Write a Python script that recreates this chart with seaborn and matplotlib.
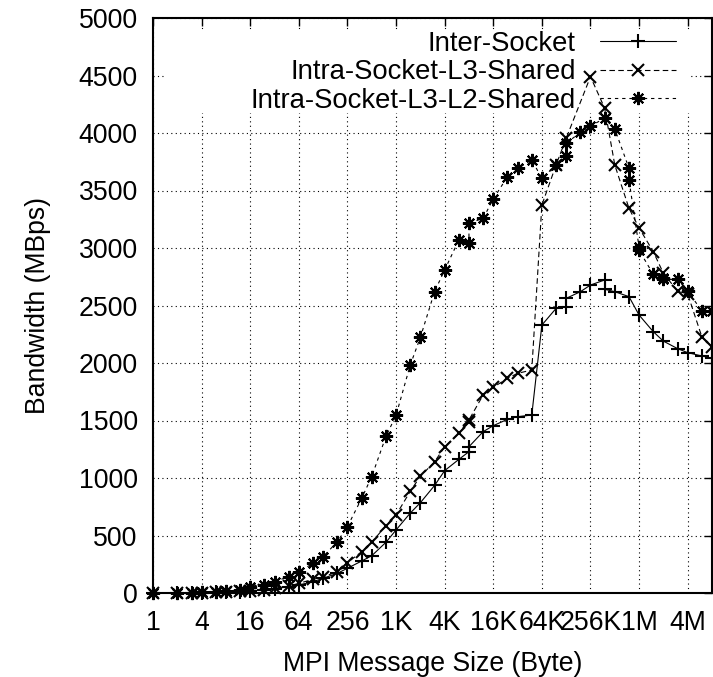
import matplotlib
matplotlib.use("Agg")
import matplotlib.pyplot as plt
from matplotlib.patches import Rectangle
import pandas as pd
import seaborn as sns

K = 1024
M = 1024 * 1024

# ---- data (message size in bytes, bandwidth in MBps) ----
inter_x = [1, 2, 3, 4, 6, 8, 12, 16, 24, 32, 48, 64, 96, 128, 192, 256, 384, 512, 768,
           1 * K, 1.5 * K, 2 * K, 3 * K, 4 * K, 6 * K, 8 * K, 8 * K, 12 * K, 16 * K, 24 * K, 32 * K, 48 * K,
           64 * K, 96 * K, 128 * K, 128 * K, 192 * K, 256 * K, 384 * K, 384 * K, 512 * K, 768 * K,
           1 * M, 1.5 * M, 2 * M, 3 * M, 4 * M, 6 * M, 8 * M]
inter_y = [1, 2, 3, 4, 6, 9, 13, 18, 27, 38, 54, 70, 98, 128, 171, 215, 278, 324, 441,
           548, 695, 785, 935, 1064, 1162, 1229, 1272, 1403, 1455, 1510, 1533, 1548,
           2330, 2475, 2490, 2562, 2620, 2678, 2722, 2641, 2620, 2577,
           2417, 2272, 2190, 2125, 2090, 2061, 2041]

l3_x = [1, 2, 3, 4, 6, 8, 12, 16, 24, 32, 48, 64, 96, 128, 192, 256, 384, 512, 768,
        1 * K, 1.5 * K, 2 * K, 3 * K, 4 * K, 6 * K, 8 * K, 8 * K, 12 * K, 16 * K, 24 * K, 32 * K, 48 * K,
        64 * K, 96 * K, 128 * K, 256 * K, 384 * K, 512 * K, 768 * K,
        1 * M, 1.5 * M, 2 * M, 3 * M, 4 * M, 6 * M, 8 * M]
l3_y = [1, 2, 3, 4, 7, 9, 14, 20, 30, 42, 60, 84, 119, 140, 185, 264, 359, 441, 586,
        678, 884, 1015, 1140, 1272, 1388, 1490, 1505, 1722, 1788, 1867, 1910, 1939,
        3374, 3722, 3954, 4490, 4215, 3722, 3345,
        3174, 2968, 2780, 2625, 2600, 2226, 2142]

l3l2_x = [1, 2, 3, 4, 6, 8, 12, 16, 24, 32, 48, 64, 96, 128, 192, 256, 384, 512, 768,
          1 * K, 1.5 * K, 2 * K, 3 * K, 4 * K, 6 * K, 8 * K, 8 * K, 12 * K, 16 * K, 24 * K, 32 * K, 48 * K,
          64 * K, 96 * K, 128 * K, 128 * K, 192 * K, 256 * K, 384 * K, 512 * K, 768 * K, 768 * K,
          1 * M, 1 * M, 1.5 * M, 2 * M, 2 * M, 3 * M, 4 * M, 6 * M, 8 * M]
l3l2_y = [2, 3, 4, 6, 10, 14, 30, 50, 70, 98, 142, 185, 258, 316, 446, 577, 823, 1012, 1362,
          1545, 1983, 2222, 2620, 2809, 3070, 3041, 3215, 3258, 3426, 3620, 3693, 3765,
          3606, 3722, 3800, 3910, 4006, 4061, 4128, 4035, 3693, 3591,
          3006, 2980, 2771, 2742, 2727, 2727, 2626, 2452, 2452]

series_names = ["Inter-Socket", "Intra-Socket-L3-Shared", "Intra-Socket-L3-L2-Shared"]

xtick_vals = [1, 4, 16, 64, 256, 1 * K, 4 * K, 16 * K, 64 * K, 256 * K, 1 * M, 4 * M]
xtick_labels = ["1", "4", "16", "64", "256", "1K", "4K", "16K", "64K", "256K", "1M", "4M"]
ytick_vals = list(range(0, 5001, 500))

# ---- style ----
sns.set_theme(style="white")
plt.rcParams["font.family"] = ["Liberation Sans", "DejaVu Sans"]
FS = 19.2
LFS = 19.8

fig = plt.figure(figsize=(7.13, 6.77), dpi=100)
ax = fig.add_axes([153 / 713, 84 / 677, 559 / 713, 575 / 677])
ax.set_xscale("log", base=2)

styles = [
    dict(marker="+", linestyle="-", markersize=9.5),
    dict(marker="x", linestyle=(0, (5, 3)), markersize=8.5),
    dict(marker=(8, 2, 0), linestyle=(0, (3, 3.5)), markersize=9.5),
]
data = [(inter_x, inter_y), (l3_x, l3_y), (l3l2_x, l3l2_y)]

for (xs, ys), name, st in zip(data, series_names, styles):
    df = pd.DataFrame({"size": xs, "bw": ys})
    sns.lineplot(data=df, x="size", y="bw", ax=ax, sort=False, estimator=None,
                 color="black", linewidth=0.8, markeredgewidth=1.5,
                 markeredgecolor="black", label=name, clip_on=False, zorder=3, **st)

ax.set_xlim(1, 8 * M)
ax.set_ylim(0, 5000)
ax.set_xticks(xtick_vals)
ax.set_xticklabels(xtick_labels)
ax.set_yticks(ytick_vals)
ax.set_yticklabels([str(v) for v in ytick_vals])
ax.minorticks_off()

ax.set_axisbelow(True)
ax.grid(True, color="black", linestyle=(0, (1, 3)), linewidth=0.8)
ax.tick_params(which="major", direction="in", length=6, width=1.0, color="black",
               top=True, right=True, labelsize=FS, labelcolor="black")
ax.tick_params(axis="x", pad=12)
ax.tick_params(axis="y", pad=11)
for sp in ax.spines.values():
    sp.set_color("black")
    sp.set_linewidth(1.5)

ax.set_xlabel("MPI Message Size (Byte)", fontsize=FS, color="black", labelpad=11)
ax.set_ylabel("Bandwidth (MBps)", fontsize=FS, color="black", labelpad=20)

# opaque key background (beneath the data, above the grid)
ax.add_patch(Rectangle((0.0215, 0.835), 0.939, 0.144, transform=ax.transAxes,
                       facecolor="white", edgecolor="none", zorder=1.5))

handles, labels = ax.get_legend_handles_labels()
leg = ax.legend(handles, labels, loc="upper right",
                bbox_to_anchor=(676 / 713, 1 - 31 / 677), bbox_transform=fig.transFigure,
                frameon=False, markerfirst=False, handlelength=2.75, handletextpad=0.9,
                labelspacing=0.09, borderpad=0, borderaxespad=0, fontsize=LFS)
for t in leg.get_texts():
    t.set_color("black")

fig.savefig("out.png", dpi=100)
